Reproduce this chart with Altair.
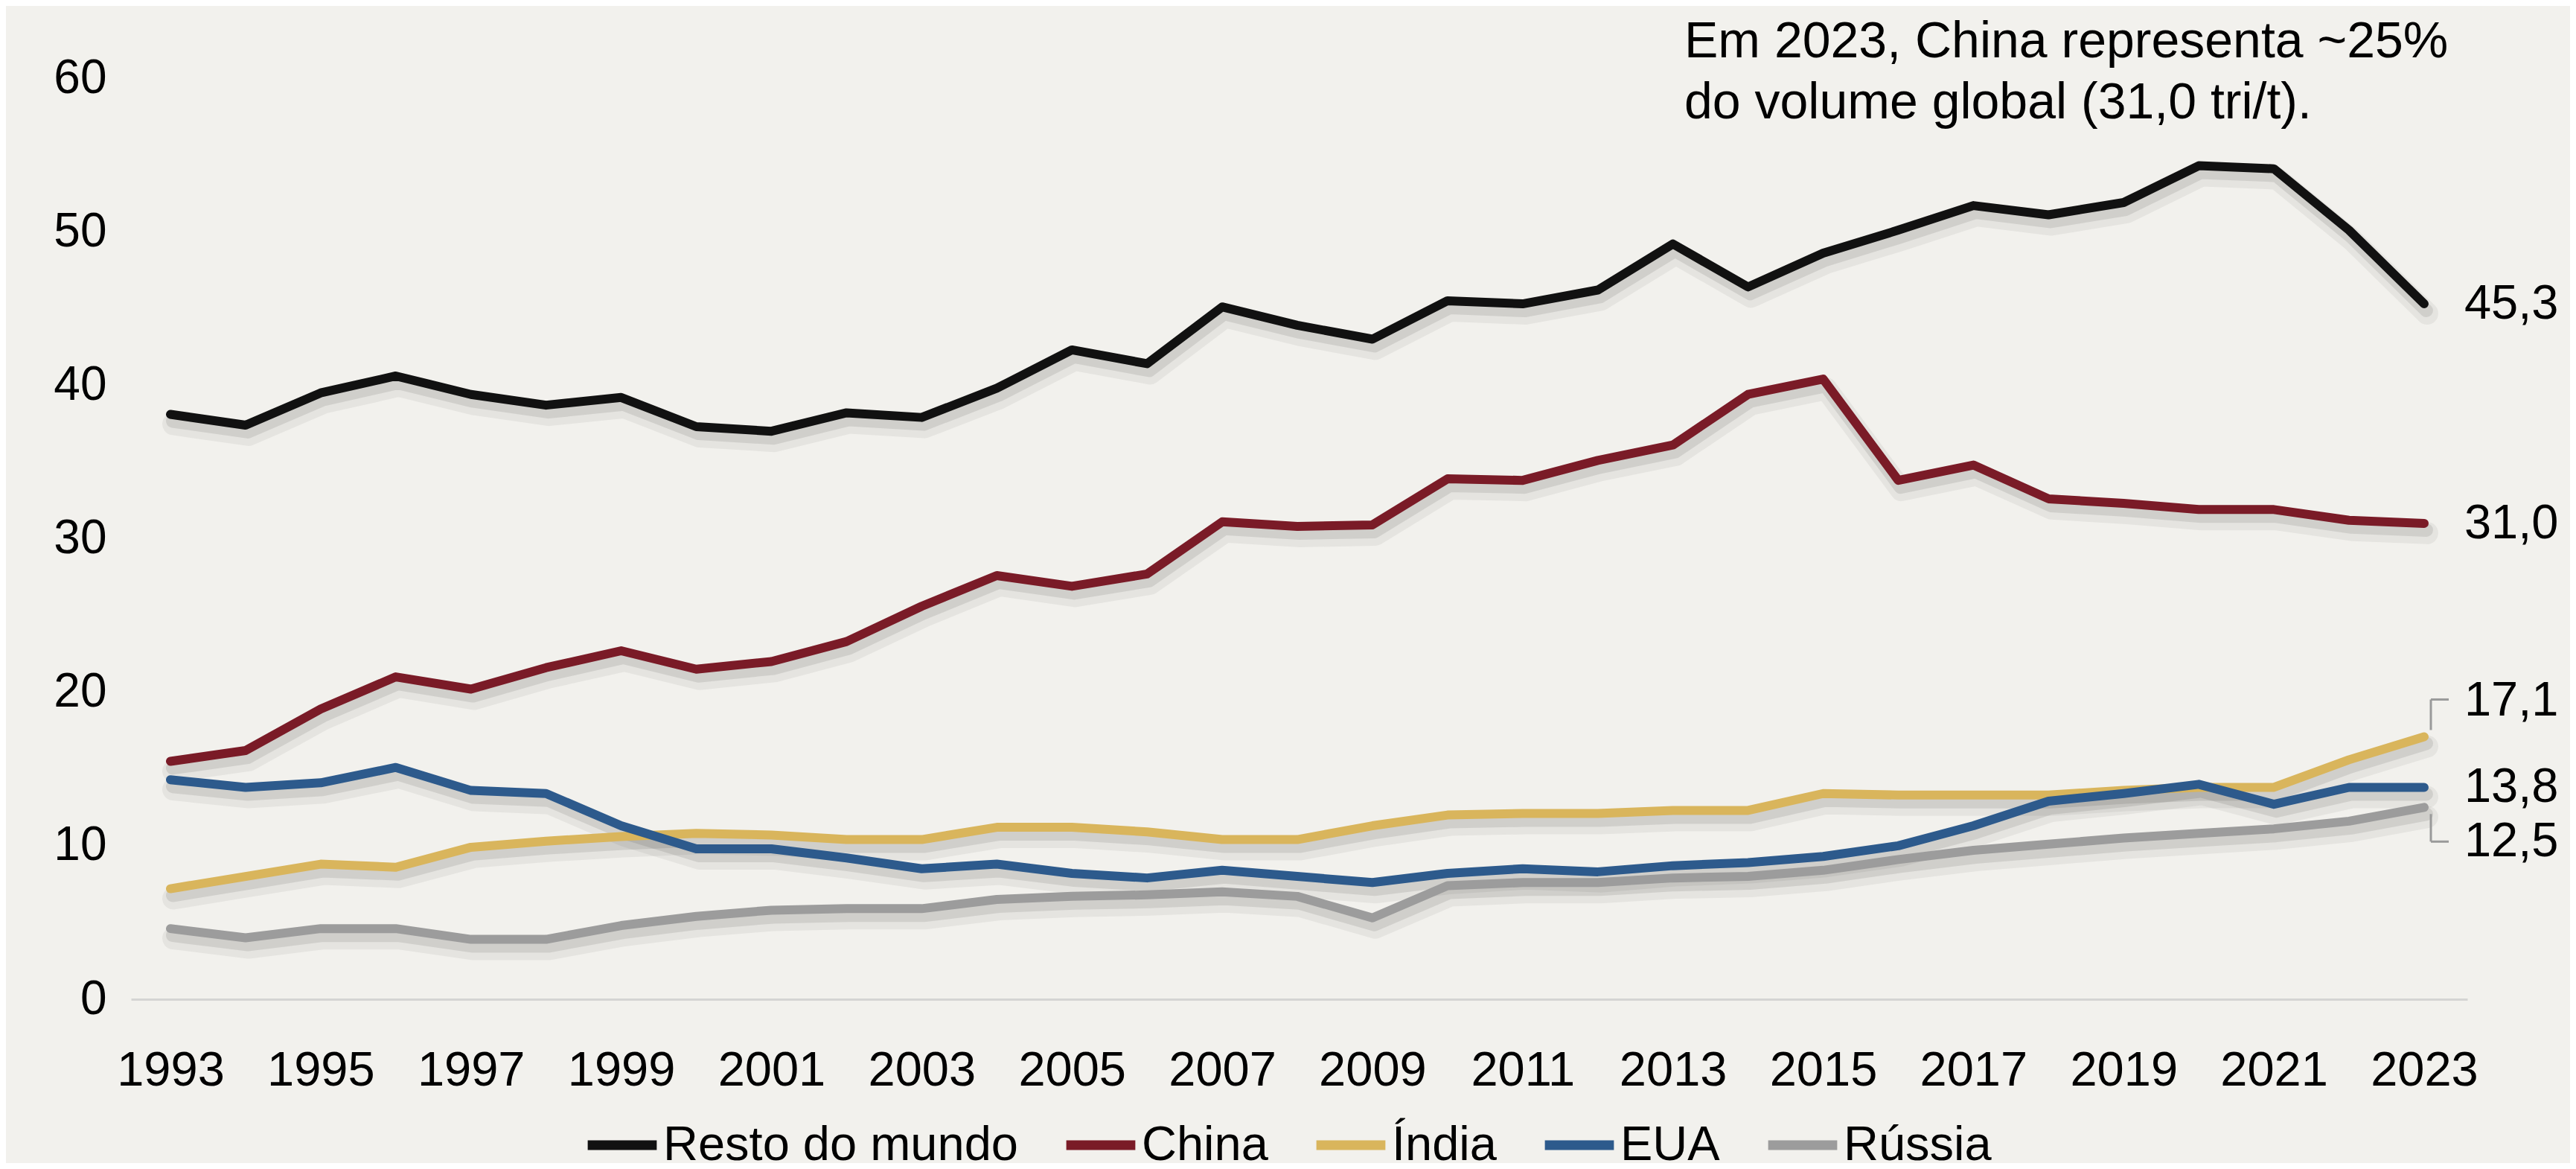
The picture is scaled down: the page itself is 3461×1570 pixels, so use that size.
import altair as alt
import pandas as pd

years = [1993, 1994, 1995, 1996, 1997, 1998, 1999, 2000, 2001, 2002, 2003,
         2004, 2005, 2006, 2007, 2008, 2009, 2010, 2011, 2012, 2013, 2014,
         2015, 2016, 2017, 2018, 2019, 2020, 2021, 2022, 2023]

resto = [38.1, 37.4, 39.5, 40.6, 39.4, 38.7, 39.2, 37.3, 37.0, 38.2, 37.9,
         39.8, 42.3, 41.4, 45.1, 43.9, 43.0, 45.5, 45.3, 46.2, 49.2, 46.4,
         48.6, 50.1, 51.7, 51.1, 51.9, 54.3, 54.1, 50.1, 45.3]
china = [15.5, 16.2, 18.9, 21.0, 20.2, 21.6, 22.7, 21.5, 22.0, 23.3, 25.6,
         27.6, 26.9, 27.7, 31.1, 30.8, 30.9, 33.9, 33.8, 35.1, 36.1, 39.4,
         40.4, 33.8, 34.8, 32.6, 32.3, 31.9, 31.9, 31.2, 31.0]
india = [7.2, 8.0, 8.8, 8.6, 9.9, 10.3, 10.6, 10.8, 10.7, 10.4, 10.4,
         11.2, 11.2, 10.9, 10.4, 10.4, 11.3, 12.0, 12.1, 12.1, 12.3, 12.3,
         13.4, 13.3, 13.3, 13.3, 13.6, 13.8, 13.8, 15.6, 17.1]
eua = [14.3, 13.8, 14.1, 15.1, 13.6, 13.4, 11.3, 9.8, 9.8, 9.2, 8.5,
       8.8, 8.2, 7.9, 8.4, 8.0, 7.6, 8.2, 8.5, 8.3, 8.7, 8.9,
       9.3, 10.0, 11.3, 12.9, 13.4, 14.0, 12.7, 13.8, 13.8]
russia = [4.6, 4.0, 4.6, 4.6, 3.9, 3.9, 4.8, 5.4, 5.8, 5.9, 5.9,
          6.5, 6.7, 6.8, 7.0, 6.7, 5.3, 7.4, 7.6, 7.6, 7.9, 8.0,
          8.4, 9.1, 9.7, 10.1, 10.5, 10.8, 11.1, 11.6, 12.5]

series_names = ["Resto do mundo", "China", "Índia", "EUA", "Rússia"]
series_values = [resto, china, india, eua, russia]
series_colors = ["#111111", "#7a1b27", "#d9b55c", "#2d5a8c", "#9c9c9c"]

end_labels = ["45,3", "31,0", "17,1", "13,8", "12,5"]
x_ticks = [1993, 1995, 1997, 1999, 2001, 2003, 2005, 2007, 2009, 2011,
           2013, 2015, 2017, 2019, 2021, 2023]
y_ticks = [0, 10, 20, 30, 40, 50, 60]
note = ["Em 2023, China representa ~25%", "do volume global (31,0 tri/t)."]

rows = []
for name, vals in zip(series_names, series_values):
    for yr, v in zip(years, vals):
        rows.append({"ano": yr, "valor": v, "serie": name})
df = pd.DataFrame(rows)

lab = pd.DataFrame({
    "serie": series_names,
    "ano": [years[-1]] * 5,
    "valor": [v[-1] for v in series_values],
    "texto": end_labels,
})

FONT = "Liberation Sans"
W, H = 3139, 1237
xscale = alt.Scale(domain=[1992.475, 2023.575], nice=False, zero=False)
yscale = alt.Scale(domain=[0, 60], nice=False)
color = alt.Color("serie:N",
                  scale=alt.Scale(domain=series_names, range=series_colors),
                  legend=alt.Legend(title=None, orient="none",
                                    legendX=607, legendY=1380,
                                    direction="horizontal",
                                    symbolType="stroke", symbolSize=8600,
                                    symbolStrokeWidth=13,
                                    labelFontSize=65, labelFont=FONT,
                                    labelColor="#000000", labelOffset=2,
                                    labelLimit=1000,
                                    columnPadding=38, padding=0))

x_enc = alt.X("ano:Q", scale=xscale,
              axis=alt.Axis(values=x_ticks, format="d", title=None,
                            grid=False, ticks=False, domain=True,
                            domainColor="#d5d5d3", domainWidth=3,
                            labelFontSize=65, labelFont=FONT,
                            labelColor="#000000", labelPadding=64,
                            labelFlush=False))
y_enc = alt.Y("valor:Q", scale=yscale,
              axis=alt.Axis(values=y_ticks, title=None, grid=False,
                            ticks=False, domain=False, labelFontSize=64,
                            labelFont=FONT, labelColor="#000000",
                            labelPadding=33))

base = alt.Chart(df)

shadow2 = base.mark_line(color="#000000", opacity=0.05, strokeWidth=30,
                         yOffset=13, xOffset=4, strokeCap="round",
                         strokeJoin="round").encode(
    x=x_enc, y=y_enc, detail="serie:N")
shadow1 = base.mark_line(color="#000000", opacity=0.09, strokeWidth=18,
                         yOffset=9, xOffset=3, strokeCap="round",
                         strokeJoin="round").encode(
    x=x_enc, y=y_enc, detail="serie:N")

lines = base.mark_line(strokeWidth=12, strokeCap="round",
                       strokeJoin="round").encode(
    x=x_enc, y=y_enc, color=color,
    order=alt.Order("ano:Q"))

lab_main = alt.Chart(lab).transform_filter(
    alt.FieldOneOfPredicate(field="texto", oneOf=["45,3", "31,0", "13,8"])
).mark_text(align="left", baseline="middle", dx=54, fontSize=65,
            font=FONT, color="#000000").encode(
    x=alt.X("ano:Q", scale=xscale), y=alt.Y("valor:Q", scale=yscale),
    text="texto:N")
lab_up = alt.Chart(lab).transform_filter(
    alt.FieldEqualPredicate(field="texto", equal="17,1")
).mark_text(align="left", baseline="middle", dx=54, dy=-48, fontSize=65,
            font=FONT, color="#000000").encode(
    x=alt.X("ano:Q", scale=xscale), y=alt.Y("valor:Q", scale=yscale),
    text="texto:N")
lab_down = alt.Chart(lab).transform_filter(
    alt.FieldEqualPredicate(field="texto", equal="12,5")
).mark_text(align="left", baseline="middle", dx=54, dy=46, fontSize=65,
            font=FONT, color="#000000").encode(
    x=alt.X("ano:Q", scale=xscale), y=alt.Y("valor:Q", scale=yscale),
    text="texto:N")

px_per_unit = H / 60.0
v_ind = india[-1]
v_rus = russia[-1]
br_style = dict(color="#9a9a9a", strokeWidth=3)
b1 = alt.Chart().mark_rule(**br_style).encode(
    x=alt.value(3090),
    y=alt.datum(v_ind + 9 / px_per_unit, scale=yscale),
    y2=alt.datum(v_ind + 50 / px_per_unit))
b2 = alt.Chart().mark_rule(**br_style).encode(
    x=alt.value(3090), x2=alt.value(3114),
    y=alt.datum(v_ind + 50 / px_per_unit, scale=yscale))
b3 = alt.Chart().mark_rule(**br_style).encode(
    x=alt.value(3090),
    y=alt.datum(v_rus - 9 / px_per_unit, scale=yscale),
    y2=alt.datum(v_rus - 46 / px_per_unit))
b4 = alt.Chart().mark_rule(**br_style).encode(
    x=alt.value(3090), x2=alt.value(3114),
    y=alt.datum(v_rus - 46 / px_per_unit, scale=yscale))

note_txt = alt.Chart().mark_text(align="left", baseline="alphabetic",
                                 fontSize=68, font=FONT, color="#000000",
                                 lineHeight=82).encode(
    x=alt.value(2087), y=alt.value(-28), text=alt.value(note))

chart = alt.layer(shadow2, shadow1, lines, b1, b2, b3, b4,
                  lab_main, lab_up, lab_down, note_txt).properties(
    width=W, height=H,
    autosize=alt.AutoSizeParams(type="none"),
    padding={"left": 168, "top": 97, "right": 138, "bottom": 220},
    background="#F2F1ED",
).configure_view(stroke=None)

chart.save("out.html", embed_options={"renderer": "svg", "actions": False})
